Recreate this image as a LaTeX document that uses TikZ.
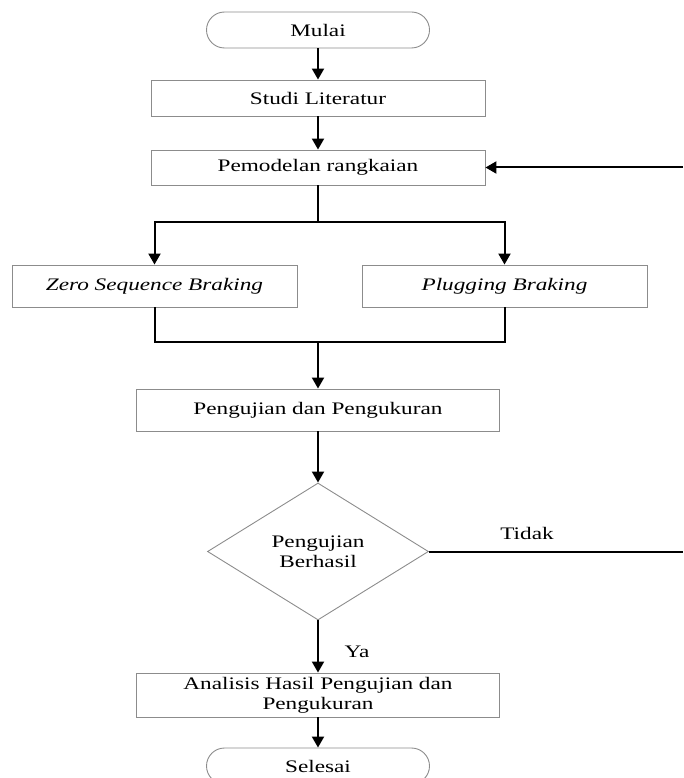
\documentclass[tikz,border=0pt]{standalone}
\usepackage{fontspec}
\setmainfont[FakeStretch=1.32]{Liberation Serif}
\usetikzlibrary{shapes.geometric,arrows.meta}
\begin{document}
\begin{tikzpicture}[x=1pt,y=-1pt,
  every node/.style={font=\fontsize{17.6pt}{20pt}\selectfont, inner sep=0pt, align=center},
  procbox/.style={draw=black!45, line width=0.9pt, rectangle},
  termbox/.style={draw=black!45, line width=0.9pt, rectangle, rounded corners=18pt,
     minimum width=223pt, minimum height=36pt},
  decbox/.style={draw=black!45, line width=0.9pt, diamond, minimum width=221pt, minimum height=137pt},
  conn/.style={line width=2pt, black},
  arr/.style={conn, -{Triangle[length=11pt,width=12pt]}},
  lbl/.style={font=\fontsize{17.6pt}{20pt}\selectfont}
]
\useasboundingbox (0,0) rectangle (683,778);
\clip (0,0) rectangle (683,778);

\node[termbox] (mulai) at (318,30) {Mulai};
\node[procbox, minimum width=334pt, minimum height=36pt] (studi) at (318,98) {Studi Literatur};
\node[procbox, minimum width=334pt, minimum height=35pt] (model) at (318,167.5) {Pemodelan rangkaian};
\node[procbox, minimum width=285pt, minimum height=42pt] (zero) at (154.5,286) {\itshape Zero Sequence Braking};
\node[procbox, minimum width=285pt, minimum height=42pt] (plug) at (504.5,286) {\itshape Plugging Braking};
\node[procbox, minimum width=363pt, minimum height=42pt] (uji) at (318,410) {Pengujian dan Pengukuran};
\node[decbox] (dia) at (318,551.5) {Pengujian\\Berhasil};
\node[procbox, minimum width=363pt, minimum height=44pt] (anal) at (318,695) {Analisis Hasil Pengujian dan\\Pengukuran};
\node[termbox] (selesai) at (318,766) {Selesai};

\coordinate (br) at (318,222);
\coordinate (mg) at (318,342);
\coordinate (rtid) at (683,551.5);
\coordinate (rtop) at (683,167.5);

\draw[arr] (mulai.south) -- (studi.north);
\draw[arr] (studi.south) -- (model.north);
\draw[conn] (model.south) -- (br);
\draw[arr] (br) -| (zero.north);
\draw[arr] (br) -| (plug.north);
\draw[conn] (zero.south) |- (mg);
\draw[conn] (plug.south) |- (mg);
\draw[arr] (mg) -- (uji.north);
\draw[arr] (uji.south) -- (dia.north);
\draw[arr] (dia.south) -- (anal.north);
\draw[arr] (anal.south) -- (selesai.north);
\draw[conn] (dia.east) -- (rtid);
\draw[arr] (rtop) -- (model.east);

\node[lbl] (tidak) at (527,533) {Tidak};
\node[lbl] (ya) at (357,652) {Ya};
\end{tikzpicture}
\end{document}
